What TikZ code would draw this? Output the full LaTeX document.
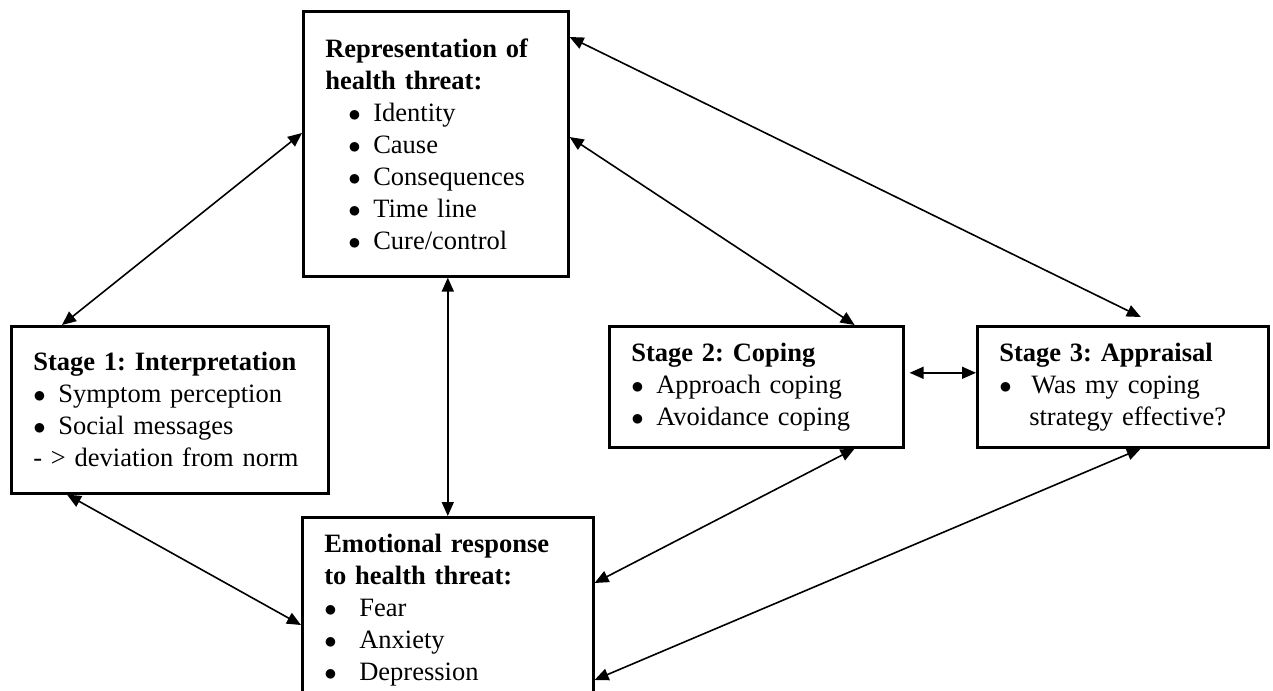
\documentclass[tikz,border=0pt]{standalone}
\usepackage{fontspec}
\setmainfont{Liberation Serif}
\usepackage{tikz}
\usetikzlibrary{arrows.meta}

\newcommand{\bul}[2][25bp]{\makebox[#1][l]{$\bullet$}#2}

\begin{document}
\frenchspacing
\begin{tikzpicture}[
  box/.style={draw,line width=2.6bp,anchor=north west,align=left,inner xsep=22bp,inner ysep=4bp,
    font=\fontsize{26.5bp}{32bp}\selectfont},
  link/.style={{Triangle[length=14bp,width=12bp]}-{Triangle[length=14bp,width=12bp]},line width=1.6bp}]
\useasboundingbox (0bp,0bp) rectangle (1273bp,-691bp);

\node (Rep) at (302bp,-10bp)[box,text width=221bp,minimum height=265bp]
  {\textbf{Representation of}\\\textbf{health threat:}\\
   \hspace*{23bp}\bul{Identity}\\\hspace*{23bp}\bul{Cause}\\\hspace*{23bp}\bul{Consequences}\\
   \hspace*{23bp}\bul{Time line}\\\hspace*{23bp}\bul{Cure/control}};
\node (S1) at (10bp,-325bp)[box,text width=273bp,minimum height=167bp]
  {\textbf{Stage 1: Interpretation}\\\bul{Symptom perception}\\\bul{Social messages}\\- > deviation from norm};
\node (S2) at (608bp,-325bp)[box,text width=250bp,minimum height=121bp]
  {\textbf{Stage 2: Coping}\\\bul{Approach coping}\\\bul{Avoidance coping}};
\node (S3) at (976bp,-325bp)[box,text width=247bp,minimum height=121bp]
  {\textbf{Stage 3: Appraisal}\\\bul[32bp]{Was my coping}\\\hspace*{30bp}strategy effective?};
\node (Emo) at (301bp,-516bp)[box,text width=247bp,minimum height=186bp]
  {\textbf{Emotional response}\\\textbf{to health threat:}\\
   \bul[35bp]{Fear}\\\bul[35bp]{Anxiety}\\\bul[35bp]{Depression}};

\draw [link] ([yshift=-123bp]Rep.north west) to ([xshift=52bp]S1.north west);
\draw [link] (Rep.south -| Emo.north) to (Emo.north);
\draw [link] ([yshift=-127bp]Rep.north east) to ([xshift=-50bp]S2.north east);
\draw [link] ([yshift=-27bp]Rep.north east) to ([xshift=18bp,yshift=8bp]S3.north);
\draw [link,shorten <=5bp] ([yshift=14bp]S2.east) to ([yshift=14bp]S3.west);
\draw [link] ([xshift=57bp]S1.south west) to ([yshift=-109bp]Emo.north west);
\draw [link] ([xshift=-50bp]S2.south east) to ([yshift=-67bp]Emo.north east);
\draw [link] ([xshift=18bp]S3.south) to ([yshift=-164bp]Emo.north east);
\end{tikzpicture}
\end{document}
